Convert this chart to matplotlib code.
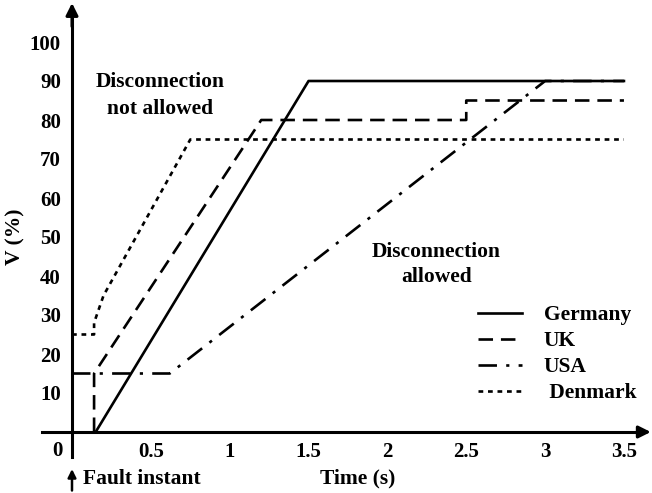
import matplotlib
matplotlib.use("Agg")
import matplotlib.pyplot as plt

# ---- data ----
germany_t = [0.15, 1.5, 3.5]
germany_v = [0, 90, 90]
uk_t = [0.14, 0.14, 1.2, 2.5, 2.5, 3.5]
uk_v = [0, 15, 80, 80, 85, 85]
usa_t = [0, 0.62, 3.0, 3.5]
usa_v = [15, 15, 90, 90]
den_t = [0, 0.14, 0.14, 0.2, 0.75, 3.5]
den_v = [25, 25, 28, 35, 75, 75]
x_ticks = [0.5, 1, 1.5, 2, 2.5, 3, 3.5]
x_tick_labels = ["0.5", "1", "1.5", "2", "2.5", "3", "3.5"]
y_ticks = [10, 20, 30, 40, 50, 60, 70, 80, 90, 100]
y_tick_labels = [str(v) for v in y_ticks]

plt.rcParams['font.family'] = ['Liberation Serif', 'DejaVu Serif']
plt.rcParams['font.weight'] = 'bold'

W, H = 652, 493
fig = plt.figure(figsize=(W / 100, H / 100), dpi=100)
ax = fig.add_axes([0, 0, 1, 1])
px_per_t = 157.7
px_per_v = 3.9
x0, y0 = 72, 432
ax.set_xlim(-x0 / px_per_t, (W - x0) / px_per_t)
ax.set_ylim(-(H - y0) / px_per_v, y0 / px_per_v)

lw = 1.9
ax.plot(germany_t, germany_v, color='black', lw=lw, label='Germany')
ax.plot(uk_t, uk_v, color='black', lw=lw, dashes=(5.5, 3), label='UK')
ax.plot(usa_t, usa_v, color='black', lw=lw, dashes=(7, 3.5, 1.2, 3.5), label='USA')
ax.plot(den_t, den_v, color='black', lw=lw, dashes=(1.8, 1.8), label=' Denmark')

# axes spines at zero
for s in ['top', 'right']:
    ax.spines[s].set_visible(False)
ax.spines['left'].set_position(('data', 0))
ax.spines['bottom'].set_position(('data', 0))
ax.spines['left'].set_linewidth(2.2)
ax.spines['bottom'].set_linewidth(2.2)
ax.spines['left'].set_bounds(-6.5, 106)
ax.spines['bottom'].set_bounds(-0.19, 3.62)
ax.spines['left'].set_zorder(1)
ax.spines['bottom'].set_zorder(1)
# arrowheads
ax.annotate('', xy=(0, 110.0), xytext=(0, 104),
            arrowprops=dict(arrowstyle='-|>', color='black', lw=2.2,
                            mutation_scale=18, shrinkA=0, shrinkB=0))
ax.annotate('', xy=(3.67, 0), xytext=(3.6, 0),
            arrowprops=dict(arrowstyle='-|>', color='black', lw=2.2,
                            mutation_scale=18, shrinkA=0, shrinkB=0))

fs = 15.5
ax.set_xticks(x_ticks)
ax.set_xticklabels(x_tick_labels)
ax.set_yticks(y_ticks)
ax.set_yticklabels(y_tick_labels)
ax.tick_params(length=0, labelsize=15)
ax.tick_params(axis='x', pad=7)
ax.tick_params(axis='y', pad=8)
for lab in ax.get_xticklabels() + ax.get_yticklabels():
    lab.set_fontweight('bold')

ax.text(-0.09, -5, '0', ha='center', va='center', fontsize=15, fontweight='bold')
ax.text(-0.36, 50, 'V (%)', ha='center', va='center', rotation=90, fontsize=fs, fontweight='bold')
ax.text(1.81, -11.8, 'Time (s)', ha='center', va='center', fontsize=fs, fontweight='bold')
ax.text(0.07, -12.0, 'Fault instant', ha='left', va='center', fontsize=fs, fontweight='bold')
ax.annotate('', xy=(0, -9.5), xytext=(0, -15),
            arrowprops=dict(arrowstyle='-|>', color='black', lw=1.8,
                            mutation_scale=12, shrinkA=0, shrinkB=0))
ax.text(0.56, 86.3, 'Disconnection\nnot allowed', ha='center', va='center',
        fontsize=fs, fontweight='bold', linespacing=1.45)
ax.text(2.31, 43.0, 'Disconnection\nallowed', ha='center', va='center',
        fontsize=fs, fontweight='bold', linespacing=1.35)

leg = ax.legend(loc='upper left', bbox_to_anchor=(478 / W, 1 - 305 / H),
                bbox_transform=fig.transFigure, frameon=False,
                prop=dict(family='Liberation Serif', weight='bold', size=fs),
                handlelength=2.05, handletextpad=1.0, labelspacing=0.28,
                borderpad=0, borderaxespad=0)

fig.savefig('out.png', dpi=100)
